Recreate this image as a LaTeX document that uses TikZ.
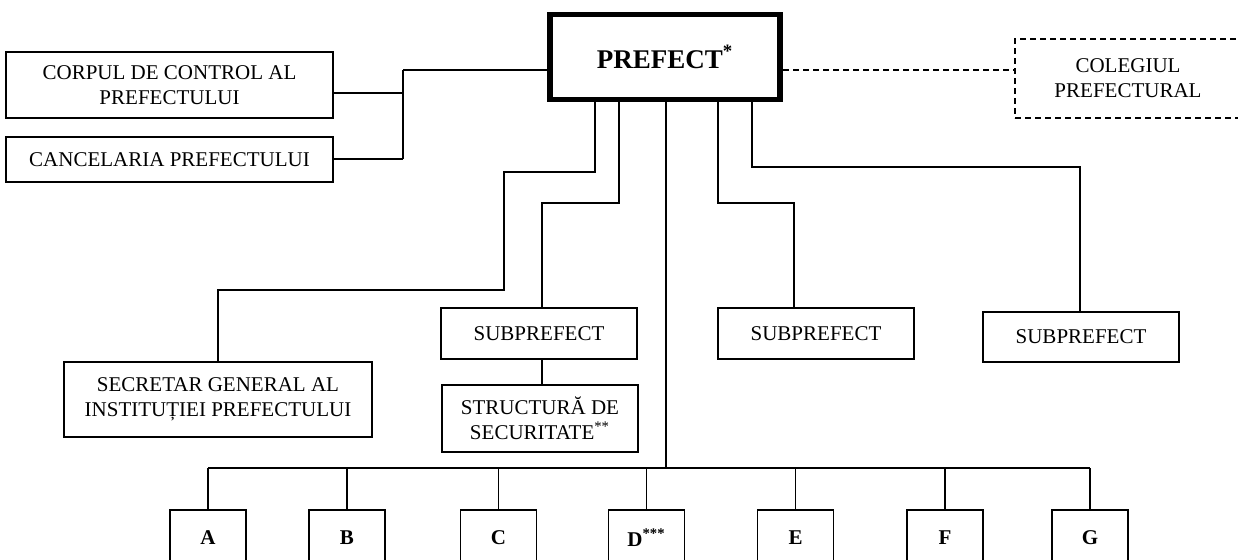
\documentclass[tikz,border=0pt]{standalone}
\usepackage{fontspec}
\setmainfont{Liberation Serif}
\begin{document}
\begin{tikzpicture}[x=0.5pt,y=-0.5pt,
  box/.style={draw,line width=0.7pt,inner sep=0pt,align=center,font=\fontsize{10.5}{12.5}\selectfont},
  bigbox/.style={draw,line width=2.6pt,inner sep=0pt,align=center,font=\fontsize{13.5}{15}\selectfont\bfseries},
  dbox/.style={draw,dash pattern=on 3pt off 2pt,line width=0.7pt,inner sep=0pt,align=center,font=\fontsize{10.5}{12.5}\selectfont},
  letterbox/.style={draw,line width=0.7pt,inner sep=0pt,minimum width=38pt,minimum height=28pt,font=\fontsize{10.5}{12.5}\selectfont\bfseries},
  conn/.style={line width=0.7pt},
  dconn/.style={line width=0.7pt,dash pattern=on 3pt off 2pt}]
\useasboundingbox (0,0) rectangle (1238,559);
\clip (0,0) rectangle (1238,559);
\fill[white] (0,0) rectangle (1238,559);
% nodes
\node[bigbox,minimum width=115pt,minimum height=42.5pt] (prefect) at (665,57) {PREFECT\textsuperscript{*}};
\node[box,minimum width=163.5pt,minimum height=33pt] (corpul) at (169.5,85) {CORPUL DE CONTROL AL\\PREFECTULUI};
\node[box,minimum width=163.5pt,minimum height=22.5pt] (cancel) at (169.5,159.5) {CANCELARIA PREFECTULUI};
\node[dbox,minimum width=113pt,minimum height=39.5pt] (coleg) at (1128,78.5) {COLEGIUL\\PREFECTURAL};
\node[box,minimum width=154pt,minimum height=37.5pt] (secretar) at (218,399.5) {SECRETAR GENERAL AL\\INSTITUȚIEI PREFECTULUI};
\node[box,minimum width=98pt,minimum height=25.5pt] (subA) at (539,333.5) {SUBPREFECT};
\node[box,minimum width=98pt,minimum height=33.5pt] (struct) at (540,418.5) {STRUCTURĂ DE\\SECURITATE\textsuperscript{**}};
\node[box,minimum width=98pt,minimum height=25.5pt] (subB) at (816,333.5) {SUBPREFECT};
\node[box,minimum width=98pt,minimum height=25pt] (subC) at (1081,337) {SUBPREFECT};
\node[letterbox] (A) at (208,538) {A};
\node[letterbox] (B) at (347,538) {B};
\node[letterbox] (C) at (498.5,538) {C};
\node[letterbox] (D) at (646.5,538) {D\textsuperscript{***}};
\node[letterbox] (E) at (795.5,538) {E};
\node[letterbox] (F) at (945,538) {F};
\node[letterbox] (G) at (1090,538) {G};
% left connectors
\coordinate (jL) at (403,70);
\coordinate (jC) at (403,93);
\coordinate (jK) at (403,159);
\draw[conn] (jL) -- (jL -| prefect.west);
\draw[conn] (jL) -- (jK);
\draw[conn] (jC) -- (jC -| corpul.east);
\draw[conn] (jK) -- (jK -| cancel.east);
% dashed to colegiu
\coordinate (jD) at (783,70);
\draw[dconn] (jD) -- (jD -| coleg.west);
% branches down from prefect
\draw[conn] (595,100) -- (595,172) -- (504,172) -- (504,290) -- (218,290) -- (secretar.north);
\draw[conn] (619,100) -- (619,203) -- (542,203) -- (542,308);
\draw[conn] (542,359) -- (542,385);
\draw[conn] (718,100) -- (718,203) -- (794,203) -- (794,308);
\draw[conn] (752,100) -- (752,167) -- (1080,167) -- (1080,312);
% trunk and bus
\coordinate (bus) at (666,468);
\draw[conn] (666,100) -- (bus);
\draw[conn] (A.north |- bus) -- (G.north |- bus);
\foreach \n in {A,B,C,D,E,F,G} {\draw[conn] (\n.north |- bus) -- (\n.north);}
\end{tikzpicture}
\end{document}
